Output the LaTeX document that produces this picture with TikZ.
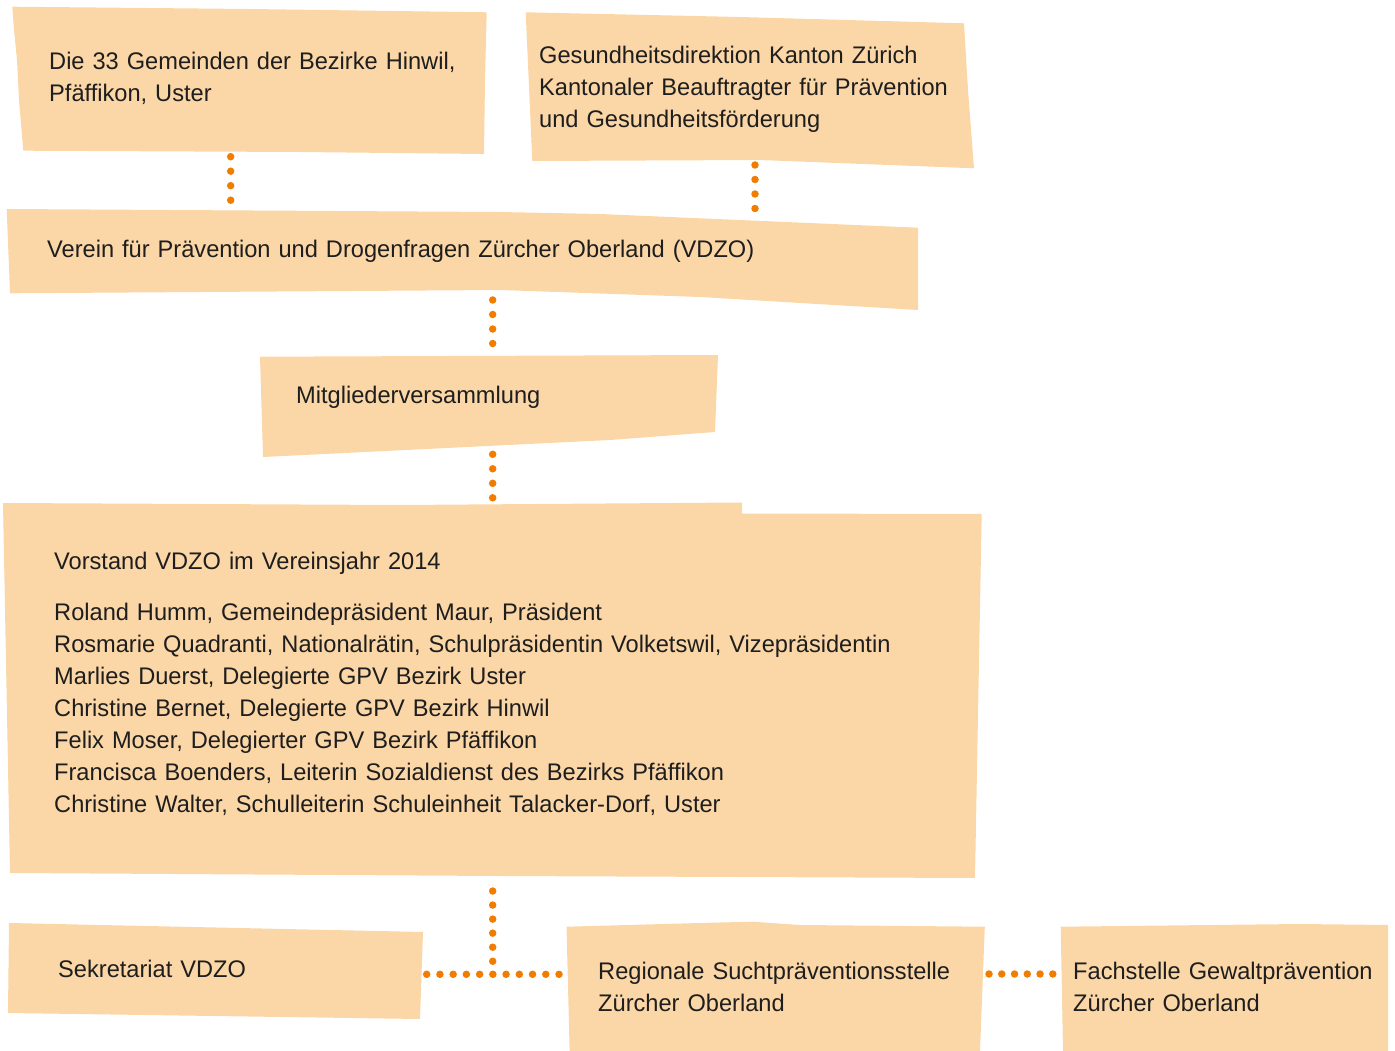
\documentclass[tikz,border=0pt]{standalone}
\usepackage{fontspec}
\setmainfont[FakeStretch=0.984]{Liberation Sans}
\definecolor{boxfill}{RGB}{251,214,166}
\definecolor{dotorange}{RGB}{240,125,0}
\definecolor{txt}{RGB}{30,30,30}
\begin{document}
\begin{tikzpicture}[x=1pt,y=-1pt,
  paper/.style={fill=boxfill,draw=none},
  label/.style={anchor=base west,inner sep=0pt,text width=#1,align=left,text=txt,
    font=\fontsize{24}{32}\selectfont},
  label/.default=430pt,
  dotline/.style={draw=dotorange,line width=7.5pt,line cap=round,dash pattern=on 0pt off #1},
  dotline/.default=14.5pt]
\useasboundingbox (0,0) rectangle (1395,1051);

% boxes
\fill[paper] (12.3,6.7) -- (250,9) -- (486.7,12.3) -- (485,80) -- (484,154) -- (300,152) -- (23.3,150.7) -- (19,100) -- (17,60) -- (14,30) -- cycle;
\fill[paper] (525.7,12.3) -- (740,17) -- (964,23.3) -- (968,90) -- (974,168.3) -- (760,160) -- (532.3,161) -- cycle;
\fill[paper] (6.7,209) -- (500,212) -- (600,214) -- (918,227.7) -- (918,310) -- (700,297) -- (500,290) -- (10,293.3) -- cycle;
\fill[paper] (260,356.7) -- (718,355) -- (715,432) -- (610,440) -- (263,457) -- cycle;
\fill[paper] (3,503) -- (400,505) -- (742,502.5) -- (742,513.5) -- (981.7,514) -- (975,878) -- (500,876) -- (10,873) -- cycle;
\fill[paper] (9,923) -- (423,932) -- (420,1019) -- (8,1013) -- cycle;
\fill[paper] (566.5,926.7) -- (700,923) -- (752.7,921.7) -- (800,925) -- (984.8,926.7) -- (980,1051) -- (569.6,1051) -- cycle;
\fill[paper] (1060.7,926.7) -- (1300,924) -- (1388,925) -- (1388,1051) -- (1063,1051) -- cycle;

% texts
\node[label] (gem) at (49,70) {Die 33 Gemeinden der Bezirke Hinwil,\\Pfäffikon, Uster};
\node[label] (gd) at (539,63.5) {Gesundheitsdirektion Kanton Zürich\\Kantonaler Beauftragter für Prävention\\und Gesundheitsförderung};
\node[label=860pt] (vdzo) at (47,257.5) {Verein für Prävention und Drogenfragen Zürcher Oberland (VDZO)};
\node[label] (mv) at (296,403.5) {Mitgliederversammlung};
\node[label=900pt] (vst) at (54,569.5) {Vorstand VDZO im Vereinsjahr 2014\\[19pt]
Roland Humm, Gemeindepräsident Maur, Präsident\\
Rosmarie Quadranti, Nationalrätin, Schulpräsidentin Volketswil, Vizepräsidentin\\
Marlies Duerst, Delegierte GPV Bezirk Uster\\
Christine Bernet, Delegierte GPV Bezirk Hinwil\\
Felix Moser, Delegierter GPV Bezirk Pfäffikon\\
Francisca Boenders, Leiterin Sozialdienst des Bezirks Pfäffikon\\
Christine Walter, Schulleiterin Schuleinheit Talacker-Dorf, Uster};
\node[label] (sek) at (58,977.5) {Sekretariat VDZO};
\node[label] (rsp) at (598,979.5) {Regionale Suchtpräventionsstelle\\Zürcher Oberland};
\node[label=320pt] (fgp) at (1073,979.5) {Fachstelle Gewaltprävention\\Zürcher Oberland};

% connector end points on the box edges
\coordinate (gemS) at (230.7,156.7);
\coordinate (vdzoNa) at (230.7,200.5);
\coordinate (gdS) at (755,165);
\coordinate (vdzoNb) at (755,208.8);
\coordinate (vdzoS) at (492.7,300);
\coordinate (mvN) at (492.7,343.8);
\coordinate (mvS) at (492.7,454.3);
\coordinate (vstN) at (492.7,498.1);
\coordinate (vstS) at (492.7,891);
\coordinate (jn) at (492.7,961.6);
\coordinate (sekE) at (426.7,974.3);
\coordinate (rspW) at (559.3,974.3);
\coordinate (rspE) at (989,974);
\coordinate (fgpW) at (1052.9,974);

% connectors
\draw[dotline] (gemS) -- (vdzoNa);
\draw[dotline] (gdS) -- (vdzoNb);
\draw[dotline] (vdzoS) -- (mvN);
\draw[dotline] (mvS) -- (vstN);
\draw[dotline=14.05pt] (vstS) -- (jn);
\draw[dotline=13.23pt] (sekE) -- (rspW);
\draw[dotline=12.76pt] (rspE) -- (fgpW);
\end{tikzpicture}
\end{document}
